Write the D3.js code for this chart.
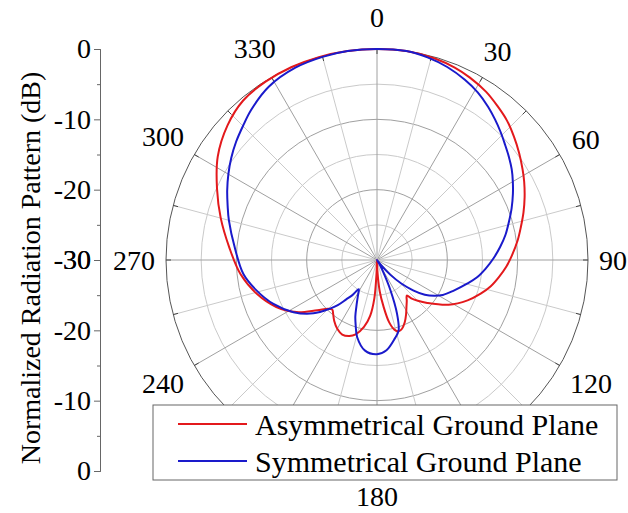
<!DOCTYPE html>
<html>
<head>
<meta charset="utf-8">
<script src="https://cdn.jsdelivr.net/npm/d3@7"></script>
<style>
body { margin: 0; background: #fff; }
svg text { font-family: "Liberation Serif", "Times New Roman", Times, "DejaVu Serif", "Noto Serif", serif; fill: #000; }
</style>
</head>
<body>
<svg id="chart"></svg>
<script>
// values: angle in degrees, level in dB
var redAngle = [0, 8, 16, 22, 27, 33, 38, 43, 48, 53, 58, 62, 67, 72, 77, 82, 88, 93, 98, 103, 108, 114, 122, 130.5, 135, 138, 140, 144, 148, 152, 156, 160, 163, 166, 169, 172, 175, 178, 180, 182, 184, 187, 191, 196, 200, 205, 210, 215, 219, 222, 225, 230, 237, 245, 254, 264, 275, 285, 294, 303, 312, 320, 328, 336, 344, 352]
var redDb = [0, 0, -0.2, -0.5, -0.9, -1.5, -2.2, -2.9, -3.8, -4.7, -5.6, -6.3, -7.2, -8.1, -9.0, -9.8, -10.8, -11.6, -12.5, -13.4, -14.5, -15.9, -18.0, -20.6, -21.8, -22.6, -23.4, -22.8, -22.1, -21.2, -20.3, -19.6, -19.4, -19.8, -21.0, -23.3, -25.5, -28.5, -30, -28.2, -24.5, -22.0, -20.3, -19.0, -18.5, -18.3, -18.7, -19.4, -20.1, -20.5, -20.2, -18.9, -16.4, -14.2, -12.3, -10.5, -8.9, -7.0, -5.1, -3.0, -1.4, -0.4, -0.1, 0, 0, 0]

var blueAngle = [0, 8, 14, 20, 26, 31, 36, 40, 44, 48, 52, 56, 60, 64, 69, 74, 79, 84, 89, 94.5, 100, 104.5, 112, 118, 122, 126, 130, 134, 138, 142, 146, 150, 153, 156, 159.5, 163, 167, 174, 180, 187.5, 194.5, 198, 201, 204, 208, 212, 215, 218, 221, 224, 230, 238, 247, 256, 264, 275, 285, 290, 295, 300, 305, 310, 315, 320, 328, 337, 345, 352]
var blueDb = [0, 0, -0.3, -0.8, -1.5, -2.2, -3.1, -3.9, -4.7, -5.5, -6.2, -6.9, -7.7, -8.5, -9.5, -10.5, -11.4, -12.4, -13.4, -14.5, -15.6, -16.7, -18.3, -19.4, -20.4, -21.6, -23.3, -25.2, -27.2, -29.2, -30, -29.2, -27.9, -25.3, -21.9, -19.5, -18.6, -17.1, -16.6, -17.0, -18.7, -20.2, -21.4, -22.8, -24.2, -25.1, -23.9, -22.9, -21.5, -20.4, -18.2, -16.0, -14.0, -12.3, -10.9, -9.7, -8.2, -7.4, -6.5, -5.6, -4.7, -3.85, -3.05, -2.15, -0.95, -0.3, -0.1, 0]

var dbTicks = [0, -10, -20, -30]
var dbMinorTicks = [-5, -15, -25]
var ringLevels = [-25, -20, -15, -10, -5]
var angleLabels = [0, 30, 60, 90, 120, 180, 240, 270, 300, 330]
var seriesNames = ["Asymmetrical Ground Plane", "Symmetrical Ground Plane"]
var seriesColors = ["#e3191c", "#1a1acb"]

var dimensions = {
    width: 628,
    height: 513,
    cx: 377,
    cy: 260,
    radius: 211
}
var serif = "Liberation Serif, Times New Roman, DejaVu Serif, serif"

var svg = d3.select("#chart")
    .attr("width", dimensions.width)
    .attr("height", dimensions.height)

var rScale = d3.scaleLinear()
    .domain([-30, 0])
    .range([0, dimensions.radius])

var rad = d => d * Math.PI / 180

var polar = svg.append("g")
    .attr("transform", "translate(" + dimensions.cx + "," + dimensions.cy + ")")

// rings
polar.selectAll("circle.ring")
    .data(ringLevels)
    .enter()
    .append("circle")
    .attr("class", "ring")
    .attr("r", d => rScale(d))
    .attr("fill", "none")
    .attr("stroke", d => d % 10 == 0 ? "#a0a0a0" : "#cacaca")
    .attr("stroke-width", 1)

// spokes every 15 degrees
polar.selectAll("line.spoke")
    .data(d3.range(0, 360, 15))
    .enter()
    .append("line")
    .attr("class", "spoke")
    .attr("x1", 0)
    .attr("y1", 0)
    .attr("x2", d => rScale(0) * Math.sin(rad(d)))
    .attr("y2", d => -rScale(0) * Math.cos(rad(d)))
    .attr("stroke", d => d % 30 == 0 ? "#a0a0a0" : "#cacaca")
    .attr("stroke-width", 1)

polar.append("circle")
    .attr("r", rScale(0))
    .attr("fill", "none")
    .attr("stroke", "#555")
    .attr("stroke-width", 1)

polar.selectAll("line.tick")
    .data(d3.range(0, 360, 15))
    .enter()
    .append("line")
    .attr("class", "tick")
    .attr("x1", d => (rScale(0) - 5) * Math.sin(rad(d)))
    .attr("y1", d => -(rScale(0) - 5) * Math.cos(rad(d)))
    .attr("x2", d => rScale(0) * Math.sin(rad(d)))
    .attr("y2", d => -rScale(0) * Math.cos(rad(d)))
    .attr("stroke", "#444")
    .attr("stroke-width", 1)

// angle labels
polar.selectAll("text.alabel")
    .data(angleLabels)
    .enter()
    .append("text")
    .attr("class", "alabel")
    .attr("font-family", serif)
    .attr("font-size", 28)
    .attr("text-anchor", "middle")
    .attr("dominant-baseline", "central")
    .text(d => d)
    .each(function (d) {
        var w = this.getComputedTextLength()
        var s = Math.sin(rad(d)), c = Math.cos(rad(d))
        var lr = rScale(0) + 11 + Math.abs(s) * w / 2 + Math.abs(c) * 14
        if (c > 0.99) lr += 7   // the 0 label sits a little higher
        d3.select(this)
            .attr("x", lr * s)
            .attr("y", -lr * c)
    })

// curves
var series = [
    redAngle.map((a, i) => ({ a: a, db: redDb[i] })),
    blueAngle.map((a, i) => ({ a: a, db: blueDb[i] }))
]

var radialLine = d3.lineRadial()
    .angle(d => rad(d.a))
    .radius(d => rScale(d.db))
    .curve(d3.curveCatmullRomClosed.alpha(0.5))

polar.selectAll("path.series")
    .data(series)
    .enter()
    .append("path")
    .attr("class", "series")
    .attr("d", radialLine)
    .attr("fill", "none")
    .attr("stroke", (d, i) => seriesColors[i])
    .attr("stroke-width", 2)

// left dB axis, mirrored about the centre
var yTop = d3.scaleLinear().domain([-30, 0]).range([dimensions.cy, dimensions.cy - dimensions.radius])
var yBottom = d3.scaleLinear().domain([-30, 0]).range([dimensions.cy, dimensions.cy + dimensions.radius])

;[yTop, yBottom].forEach(function (scale) {
    var major = svg.append("g")
        .attr("transform", "translate(100,0)")
        .call(d3.axisLeft(scale).tickValues(dbTicks).tickSize(6).tickPadding(3).tickFormat(d => String(d)))
    major.attr("font-family", serif).attr("font-size", 28)
    svg.append("g")
        .attr("transform", "translate(100,0)")
        .call(d3.axisLeft(scale).tickValues(dbMinorTicks).tickSize(3).tickFormat(""))
    svg.selectAll(".domain, .tick line").attr("stroke", "#666")
})

svg.append("text")
    .attr("transform", "translate(40,268) rotate(-90)")
    .attr("text-anchor", "middle")
    .attr("font-family", serif)
    .attr("font-size", 28)
    .text("Normalized Radiation Pattern (dB)")

// legend
var legend = svg.append("g")
legend.append("rect")
    .attr("x", 153)
    .attr("y", 405)
    .attr("width", 464)
    .attr("height", 75)
    .attr("fill", "#fff")
    .attr("stroke", "#666")
    .attr("stroke-width", 1)

var rows = legend.selectAll("g.row")
    .data(seriesNames)
    .enter()
    .append("g")
    .attr("class", "row")
    .attr("transform", (d, i) => "translate(0," + (424 + i * 37) + ")")

rows.append("line")
    .attr("x1", 178)
    .attr("x2", 247)
    .attr("stroke", (d, i) => seriesColors[i])
    .attr("stroke-width", 2)

rows.append("text")
    .attr("x", 255)
    .attr("y", 11)
    .attr("font-family", serif)
    .attr("font-size", 30)
    .text(d => d)
</script>
</body>
</html>
